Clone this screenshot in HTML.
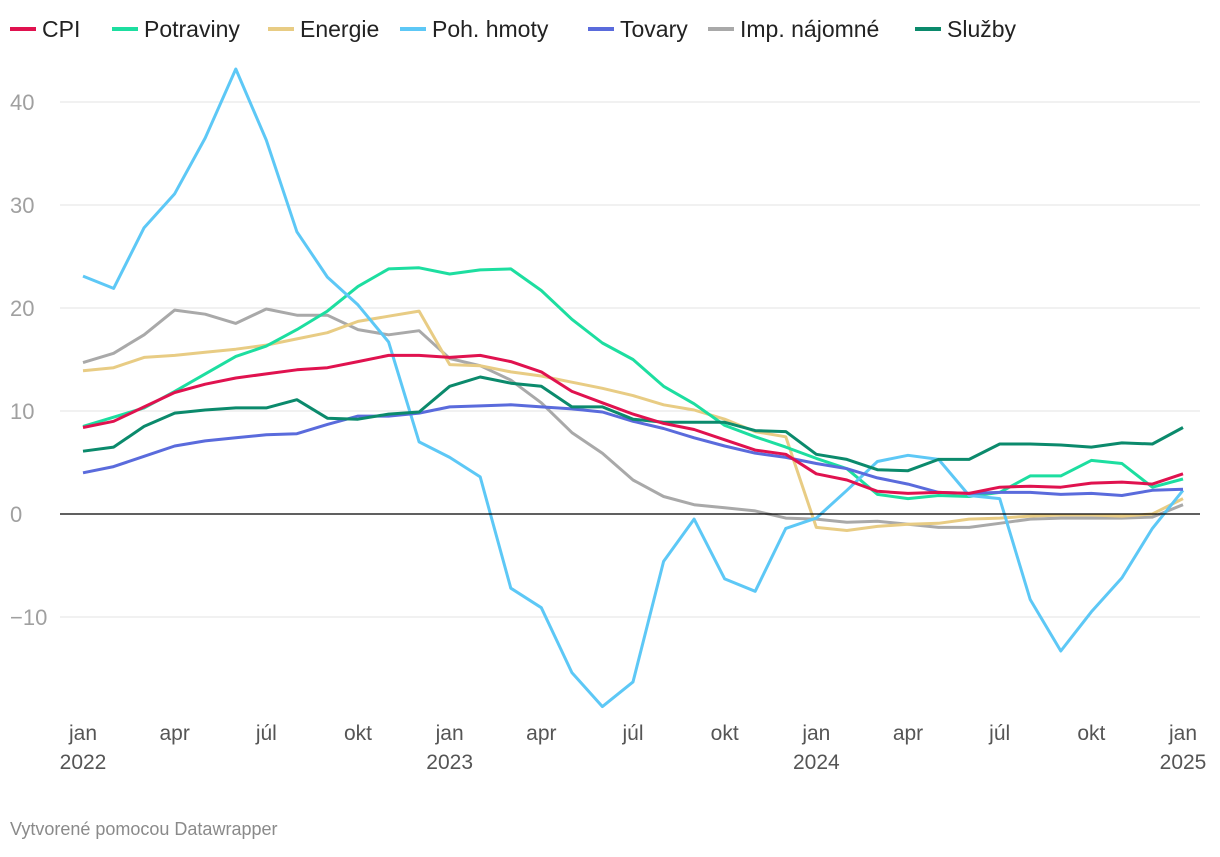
<!DOCTYPE html>
<html><head><meta charset="utf-8">
<style>
body{margin:0;background:#fff;font-family:"Liberation Sans",Roboto,sans-serif;}
svg text{font-family:"Liberation Sans",sans-serif;}
</style></head>
<body>
<svg id="chart" width="1220" height="852"></svg>
<script>
const months=37;
const seriesNames=["CPI","Potraviny","Energie","Poh. hmoty","Tovary","Imp. nájomné","Služby"];
const seriesColors=["#e0124f","#1ddea0","#e8cc84","#5dc8f6","#5a6bdc","#a9a9a9","#0b8a6c"];
const cpi=[8.4,9.0,10.4,11.8,12.6,13.2,13.6,14.0,14.2,14.8,15.4,15.4,15.2,15.4,14.8,13.8,11.9,10.8,9.7,8.8,8.2,7.2,6.2,5.8,3.9,3.3,2.2,2.0,2.1,2.0,2.6,2.7,2.6,3.0,3.1,2.9,3.9];
const potraviny=[8.5,9.4,10.3,11.9,13.6,15.3,16.3,17.9,19.7,22.1,23.8,23.9,23.3,23.7,23.8,21.7,18.9,16.6,15.0,12.4,10.7,8.6,7.5,6.5,5.4,4.4,1.9,1.5,1.8,1.7,2.1,3.7,3.7,5.2,4.9,2.6,3.4];
const energie=[13.9,14.2,15.2,15.4,15.7,16.0,16.4,17.0,17.6,18.7,19.2,19.7,14.5,14.4,13.8,13.4,12.8,12.2,11.5,10.6,10.1,9.2,8.0,7.5,-1.3,-1.6,-1.2,-1.0,-0.9,-0.5,-0.4,-0.2,-0.1,-0.1,-0.2,0,1.5];
const pohHmoty=[23.1,21.9,27.8,31.1,36.5,43.2,36.3,27.4,23.0,20.3,16.7,7.0,5.5,3.6,-7.2,-9.1,-15.4,-18.7,-16.3,-4.6,-0.5,-6.3,-7.5,-1.4,-0.4,2.3,5.1,5.7,5.3,1.8,1.5,-8.3,-13.3,-9.5,-6.2,-1.4,2.3];
const tovary=[4.0,4.6,5.6,6.6,7.1,7.4,7.7,7.8,8.7,9.5,9.5,9.8,10.4,10.5,10.6,10.4,10.2,9.9,9.0,8.3,7.4,6.6,5.9,5.5,4.9,4.4,3.5,2.9,2.1,2.0,2.1,2.1,1.9,2.0,1.8,2.3,2.4];
const najomne=[14.7,15.6,17.4,19.8,19.4,18.5,19.9,19.3,19.3,17.9,17.4,17.8,15.1,14.4,13.0,10.8,7.9,5.9,3.3,1.7,0.9,0.6,0.3,-0.4,-0.5,-0.8,-0.7,-1.0,-1.3,-1.3,-0.9,-0.5,-0.4,-0.4,-0.4,-0.3,0.9];
const sluzby=[6.1,6.5,8.5,9.8,10.1,10.3,10.3,11.1,9.3,9.2,9.7,9.9,12.4,13.3,12.7,12.4,10.4,10.4,9.2,8.9,8.9,8.9,8.1,8.0,5.8,5.3,4.3,4.2,5.3,5.3,6.8,6.8,6.7,6.5,6.9,6.8,8.4];
const yTicks=[-10,0,10,20,30,40];
const yTickLabels=["−10","0","10","20","30","40"];
const xTickIdx=[0,3,6,9,12,15,18,21,24,27,30,33,36];
const xTickLabels=["jan","apr","júl","okt","jan","apr","júl","okt","jan","apr","júl","okt","jan"];
const yearLabels=["2022","2023","2024","2025"];

const allSeries=[cpi,potraviny,energie,pohHmoty,tovary,najomne,sluzby];
const NS="http://www.w3.org/2000/svg";
const svg=document.getElementById("chart");
const x=i=>83+i*(1183-83)/36;
const y=v=>514-v*10.3;
function mk(t,a){const e=document.createElementNS(NS,t);for(const k in a)e.setAttribute(k,a[k]);svg.appendChild(e);return e;}

yTicks.forEach((v,i)=>{
  if(v!==0){const g=mk("line",{x1:60,x2:1200,y1:y(v),y2:y(v),stroke:"#e3e3e3","stroke-width":1});
  
  }
  const t=mk("text",{x:10,y:y(v)+8,"text-anchor":"start","font-size":22,fill:"#a0a0a0"});
  
  
  t.textContent=yTickLabels[i];
});

xTickIdx.forEach((m,i)=>{
  const t=mk("text",{x:x(m),y:740,"text-anchor":"middle","font-size":21,fill:"#555"});
  
  
  t.textContent=xTickLabels[i];
});
yearLabels.forEach((yl,i)=>{
  const t=mk("text",{x:x(i*12),y:769,"text-anchor":"middle","font-size":21,fill:"#555"});
  
  
  t.textContent=yl;
});

const order=[5,2,1,3,4,6,0];
order.forEach(s=>{
  const d=allSeries[s].map((v,i)=>(i?"L":"M")+x(i).toFixed(1)+","+y(v).toFixed(1)).join("");
  const p=mk("path",{d:d,fill:"none",stroke:seriesColors[s],"stroke-width":3,"stroke-linejoin":"round"});
  
  
});
const zl=mk("line",{x1:60,x2:1200,y1:y(0),y2:y(0),stroke:"#000","stroke-width":1.3});



const legendX=[10,112,268,400,588,708,915];
seriesNames.forEach((n,i)=>{
  const l=mk("line",{x1:legendX[i],x2:legendX[i]+26,y1:29,y2:29,stroke:seriesColors[i],"stroke-width":4});
  
  
  const t=mk("text",{x:legendX[i]+32,y:37,"font-size":23,fill:"#222"});
  
  
  t.textContent=n;
});
const c=mk("text",{x:10,y:835,"font-size":18,fill:"#8a8a8a"});


c.textContent="Vytvorené pomocou Datawrapper";
</script>
</body></html>
